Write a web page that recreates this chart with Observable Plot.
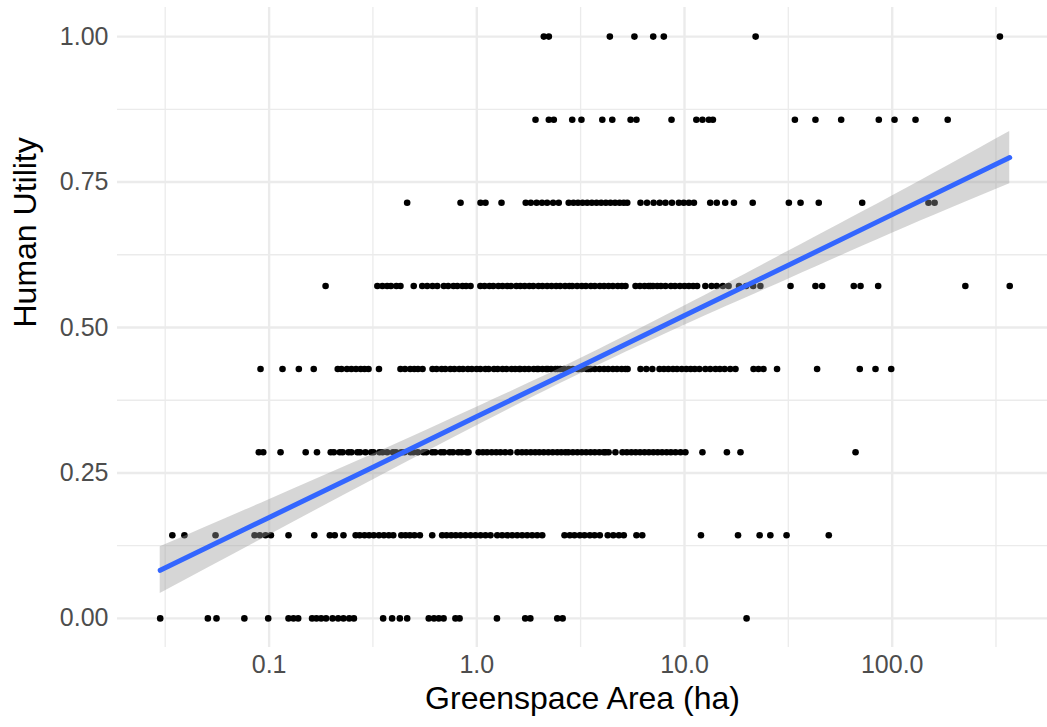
<!DOCTYPE html>
<html><head><meta charset="utf-8">
<script src="https://cdn.jsdelivr.net/npm/d3@7"></script>
<script src="https://cdn.jsdelivr.net/npm/@observablehq/plot@0.6"></script>
<style>
html,body{margin:0;padding:0;background:#fff;}
#chart svg{display:block;}
</style></head><body><div id="chart"></div>
<script>
// Human utility levels (rows of points)
const utilityLevels = [0, 1/7, 2/7, 3/7, 4/7, 5/7, 6/7, 1];

// Greenspace areas (ha) for each utility level
const area_u0 = [0.0299, 0.0507, 0.0558, 0.076, 0.099, 0.124, 0.131, 0.138, 0.161, 0.169, 0.178, 0.188, 0.202, 0.215, 0.228, 0.243, 0.256, 0.354, 0.391, 0.426, 0.462, 0.587, 0.622, 0.656, 0.692, 0.789, 0.826, 1.25, 1.71, 1.81, 2.44, 2.59, 19.9];
const area_u1 = [0.0342, 0.0391, 0.0552, 0.0851, 0.0902, 0.0961, 0.102, 0.124, 0.165, 0.196, 0.207, 0.228, 0.261, 0.273, 0.288, 0.303, 0.319, 0.338, 0.357, 0.377, 0.396, 0.433, 0.454, 0.476, 0.501, 0.532, 0.610, 0.681, 0.715, 0.753, 0.792, 0.835, 0.882, 0.933, 0.986, 1.042, 1.101, 1.164, 1.254, 1.325, 1.401, 1.481, 1.565, 1.654, 1.748, 1.848, 1.953, 2.065, 2.644, 2.804, 2.953, 3.132, 3.30, 3.50, 3.69, 3.91, 4.27, 4.54, 4.83, 5.10, 5.87, 6.26, 12.0, 18.1, 23.0, 25.9, 31.0, 49.5];
const area_u2 = [0.0892, 0.0937, 0.1135, 0.150, 0.170, 0.198, 0.205, 0.219, 0.226, 0.241, 0.249, 0.266, 0.274, 0.291, 0.31, 0.318, 0.34, 0.352, 0.37, 0.395, 0.408, 0.433, 0.448, 0.479, 0.495, 0.52, 0.553, 0.571, 0.61, 0.63, 0.672, 0.695, 0.74, 0.768, 0.815, 0.845, 0.893, 0.912, 1.02, 1.07, 1.12, 1.18, 1.24, 1.30, 1.37, 1.45, 1.57, 1.65, 1.73, 1.82, 1.91, 2.0, 2.1, 2.21, 2.32, 2.44, 2.55, 2.67, 2.76, 2.9, 3.05, 3.2, 3.36, 3.53, 3.7, 3.89, 4.08, 4.17, 4.31, 4.65, 5.03, 5.28, 5.55, 5.82, 6.11, 6.42, 6.74, 7.08, 7.43, 7.8, 8.2, 8.6, 9.05, 9.57, 10.1, 12.2, 16.0, 18.6, 66.6];
const area_u3 = [0.0909, 0.116, 0.139, 0.164, 0.214, 0.223, 0.237, 0.249, 0.262, 0.276, 0.288, 0.301, 0.338, 0.429, 0.451, 0.478, 0.50, 0.521, 0.548, 0.612, 0.64, 0.677, 0.705, 0.746, 0.78, 0.823, 0.858, 0.906, 0.946, 0.998, 1.04, 1.1, 1.14, 1.21, 1.26, 1.33, 1.39, 1.47, 1.53, 1.6, 1.62, 1.7, 1.78, 1.88, 1.95, 1.98, 2.07, 2.16, 2.2, 2.28, 2.39, 2.45, 2.52, 2.63, 2.77, 2.9, 3.06, 3.1, 3.2, 3.38, 3.45, 3.53, 3.7, 3.9, 4.1, 4.29, 4.52, 4.73, 4.98, 5.2, 5.32, 6.14, 6.55, 7.0, 7.58, 7.96, 8.36, 8.8, 9.2, 9.7, 10.2, 10.7, 11.2, 11.8, 12.6, 13.3, 14.1, 14.8, 15.6, 16.6, 17.6, 21.5, 22.7, 24.0, 27.9, 43.5, 69.8, 83.1, 98.9];
const area_u4 = [0.187, 0.332, 0.351, 0.37, 0.386, 0.41, 0.429, 0.497, 0.546, 0.577, 0.612, 0.645, 0.694, 0.728, 0.772, 0.806, 0.853, 0.888, 0.933, 1.04, 1.09, 1.15, 1.2, 1.27, 1.33, 1.4, 1.46, 1.55, 1.62, 1.7, 1.79, 1.87, 1.98, 2.07, 2.18, 2.29, 2.41, 2.52, 2.66, 2.79, 2.88, 3.04, 3.2, 3.35, 3.54, 3.7, 3.91, 4.1, 4.31, 4.52, 4.77, 4.99, 5.2, 5.81, 6.1, 6.42, 6.72, 6.86, 7.05, 7.39, 7.7, 8.1, 8.6, 9.0, 9.5, 10.0, 10.5, 11.0, 11.5, 12.6, 13.5, 14.3, 15.3, 16.3, 18.3, 19.8, 21.4, 23.2, 32.4, 42.7, 46.0, 65.3, 70.4, 85.6, 225, 368];
const area_u5 = [0.462, 0.835, 1.042, 1.101, 1.315, 1.72, 1.82, 1.94, 2.06, 2.18, 2.33, 2.48, 2.77, 2.92, 3.07, 3.23, 3.4, 3.58, 3.77, 3.97, 4.18, 4.4, 4.63, 4.87, 5.1, 5.3, 6.14, 6.6, 7.1, 7.6, 8.1, 8.7, 9.39, 9.92, 10.5, 11.1, 13.3, 14.3, 15.7, 17.3, 21.3, 31.8, 36.2, 44.3, 71.7, 149.5, 160];
const area_u6 = [1.917, 2.222, 2.348, 2.88, 3.19, 4.02, 4.49, 5.50, 5.87, 8.66, 11.4, 12.2, 13.1, 13.7, 34.0, 42.7, 56.8, 86.2, 102.6, 129.5, 185];
const area_u7 = [2.102, 2.222, 4.37, 5.74, 7.07, 7.95, 22.0, 330];

// Fitted linear trend (on log10 area) and its 95% band
const fitArea    = [0.0299, 0.1,   0.316, 1,     2.82,  10,    31.6,  100,   368];
const fitUtility = [0.0826, 0.1735, 0.260, 0.347, 0.425, 0.5205, 0.607, 0.694, 0.792];
const fitLower   = [0.043, 0.143, 0.238, 0.331, 0.412, 0.504, 0.583, 0.662, 0.747];
const fitUpper   = [0.123, 0.204, 0.282, 0.363, 0.438, 0.537, 0.631, 0.726, 0.837];

// Axes
const xMajorTicks = [0.1, 1, 10, 100];
const xTickLabels = ["0.1", "1.0", "10.0", "100.0"];
const xMinorTicks = [0.0316, 0.316, 3.16, 31.6, 316];
const yMajorTicks = [0, 0.25, 0.5, 0.75, 1];
const yTickLabels = ["0.00", "0.25", "0.50", "0.75", "1.00"];
const yMinorTicks = [0.125, 0.375, 0.625, 0.875];
const xTitle = "Greenspace Area (ha)";
const yTitle = "Human Utility";

const areaRows = [area_u0, area_u1, area_u2, area_u3, area_u4, area_u5, area_u6, area_u7];
const points = areaRows.flatMap((row, i) => row.map(a => ({area: a, utility: utilityLevels[i]})));
const fit = fitArea.map((a, i) => ({area: a, y: fitUtility[i], lo: fitLower[i], hi: fitUpper[i]}));

const grid = "#EBEBEB";
const chart = Plot.plot({
  width: 1047, height: 727,
  marginLeft: 117, marginRight: 0, marginTop: 7, marginBottom: 80,
  style: {fontFamily: "'Liberation Sans', Arial, Helvetica, sans-serif", background: "#fff", overflow: "visible"},
  x: {type: "log", domain: [0.01862, 559.4]},
  y: {domain: [-0.05, 1.05]},
  marks: [
    Plot.ruleX(xMinorTicks, {stroke: grid, strokeWidth: 1.3}),
    Plot.ruleY(yMinorTicks, {stroke: grid, strokeWidth: 1.3}),
    Plot.ruleX(xMajorTicks, {stroke: grid, strokeWidth: 2.4}),
    Plot.ruleY(yMajorTicks, {stroke: grid, strokeWidth: 2.4}),
    Plot.dot(points, {x: "area", y: "utility", r: 3.3, fill: "#000", stroke: null}),
    Plot.areaY(fit, {x: "area", y1: "lo", y2: "hi", fill: "#999999", fillOpacity: 0.4, curve: "natural"}),
    Plot.line(fit, {x: "area", y: "y", stroke: "#3366FF", strokeWidth: 5}),
    Plot.axisX({ticks: xMajorTicks, tickFormat: d => xTickLabels[xMajorTicks.indexOf(d)], tickSize: 0, tickPadding: 8, fontSize: 25, color: "#4D4D4D", label: null}),
    Plot.axisY({ticks: yMajorTicks, tickFormat: d => yTickLabels[yMajorTicks.indexOf(d)], tickSize: 0, tickPadding: 9, fontSize: 25, color: "#4D4D4D", label: null}),
    Plot.text([xTitle], {frameAnchor: "bottom", dy: 61, fontSize: 32, fill: "#000"}),
    Plot.text([yTitle], {frameAnchor: "left", dx: -92, rotate: -90, fontSize: 32, fill: "#000"})
  ]
});
document.getElementById("chart").appendChild(chart);
</script>
</body></html>
